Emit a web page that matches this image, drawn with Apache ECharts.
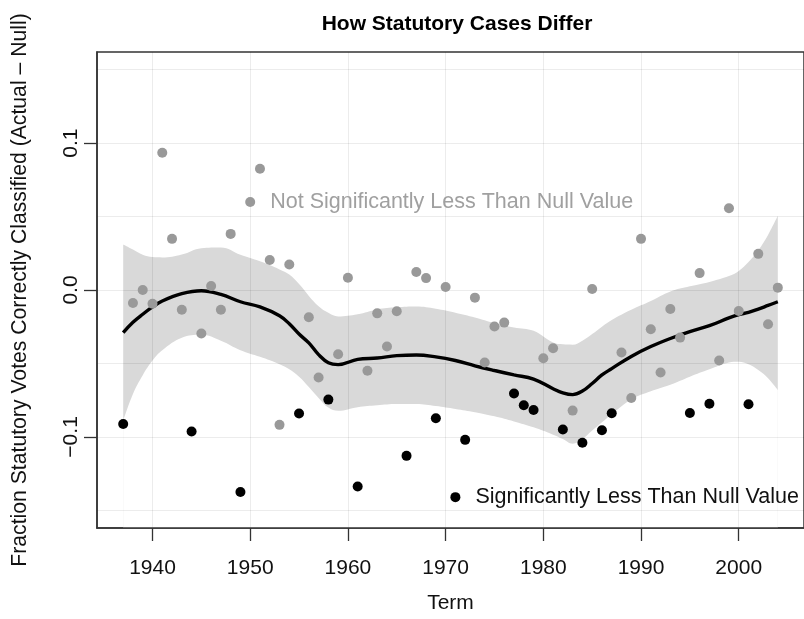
<!DOCTYPE html>
<html><head><meta charset="utf-8">
<script src="https://cdn.jsdelivr.net/npm/echarts@6/dist/echarts.min.js"></script>
<style>html,body{margin:0;padding:0;background:#fff}#c{width:804px;height:619px}</style>
</head><body><div id="c"></div>
<script>
// ---- data ----
const grayYears = [1938,1939,1940,1941,1942,1943,1945,1946,1947,1948,1950,1951,1952,1953,1954,1956,1957,1959,1960,1962,1963,1964,1965,1967,1968,1970,1973,1974,1975,1976,1980,1981,1983,1985,1988,1989,1990,1991,1992,1993,1994,1996,1998,1999,2000,2002,2003,2004];
const grayValues = [-0.0088,0.0,-0.0093,0.0934,0.0348,-0.0134,-0.0296,0.0027,-0.0134,0.0382,0.0599,0.0825,0.0204,-0.0918,0.0174,-0.0186,-0.0595,-0.0437,0.0083,-0.055,-0.0159,-0.0385,-0.0145,0.0122,0.0081,0.002,-0.0052,-0.0493,-0.0249,-0.0222,-0.0464,-0.0396,-0.0821,0.0007,-0.0425,-0.0735,0.0348,-0.0267,-0.0561,-0.0129,-0.0324,0.0115,-0.048,0.0556,-0.0143,0.0246,-0.0233,0.0016];
const blackYears = [1937,1944,1949,1955,1958,1961,1966,1969,1971,1972,1977,1978,1979,1982,1984,1986,1987,1995,1997,2001];
const blackValues = [-0.0912,-0.0963,-0.1375,-0.0841,-0.0746,-0.1337,-0.1129,-0.0873,-0.141,-0.102,-0.0704,-0.0785,-0.0817,-0.095,-0.104,-0.0955,-0.0839,-0.0837,-0.0774,-0.0778];
const fitYears = [1937,1938,1939,1940,1941,1943,1945,1947,1949,1951,1953,1954,1955,1956,1957,1958,1959,1961,1963,1965,1967,1969,1971,1973,1975,1977,1979,1981,1982,1983,1984,1985,1986,1987,1989,1991,1993,1995,1997,1999,2000,2001,2002,2003,2004];
const fitMean = [-0.029,-0.022,-0.0165,-0.0115,-0.0075,-0.0025,-0.0005,-0.003,-0.008,-0.0115,-0.0175,-0.023,-0.030,-0.036,-0.044,-0.0495,-0.0508,-0.0472,-0.0463,-0.0447,-0.0442,-0.0455,-0.048,-0.0516,-0.0548,-0.0578,-0.0606,-0.0672,-0.0700,-0.0712,-0.0688,-0.0636,-0.0578,-0.0535,-0.0452,-0.0385,-0.033,-0.0283,-0.0243,-0.019,-0.0168,-0.0152,-0.013,-0.0105,-0.008];
const fitUpper = [0.031,0.0275,0.024,0.0224,0.0222,0.0242,0.0285,0.029,0.024,0.0195,0.014,0.0105,0.004,-0.004,-0.011,-0.0155,-0.018,-0.0165,-0.0132,-0.0118,-0.0113,-0.0128,-0.0155,-0.0188,-0.0226,-0.0255,-0.0278,-0.0358,-0.037,-0.0372,-0.0345,-0.030,-0.025,-0.0205,-0.0135,-0.0075,-0.001,0.0025,0.0055,0.0095,0.013,0.019,0.027,0.0375,0.0505];
const fitLower = [-0.089,-0.0708,-0.058,-0.048,-0.041,-0.0325,-0.0305,-0.0345,-0.041,-0.0455,-0.0505,-0.054,-0.059,-0.066,-0.0735,-0.080,-0.0822,-0.0798,-0.0785,-0.0776,-0.0776,-0.079,-0.081,-0.0832,-0.086,-0.0895,-0.0935,-0.0985,-0.1015,-0.1047,-0.1015,-0.0957,-0.090,-0.0845,-0.0745,-0.069,-0.0645,-0.059,-0.054,-0.0493,-0.0488,-0.0505,-0.0545,-0.060,-0.068];
const xTickValues = [1940,1950,1960,1970,1980,1990,2000];
const yTickValues = [-0.1,0,0.1];
const yTickLabels = ['\u22120.1','0.0','0.1'];
const xGridValues = [1940,1950,1960,1970,1980,1990,2000];
const yGridValues = [-0.15,-0.1,-0.05,0,0.05,0.1,0.15];
const grayNote = {year:1950, text:'Not Significantly Less Than Null Value'};
const blackNote = {year:1971, text:'Significantly Less Than Null Value'};
const titleText = 'How Statutory Cases Differ';
const xName = 'Term';
const yName = 'Fraction Statutory Votes Correctly Classified (Actual \u2013 Null)';

// ---- chart ----
const FONT = '"Liberation Sans", Arial, Helvetica, sans-serif';
const chart = echarts.init(document.getElementById('c'), null, {renderer:'canvas'});

function pts(xs, ys, note, color) {
  return xs.map((x, i) => {
    const item = {value:[x, ys[i]]};
    if (x === note.year) {
      item.label = {show:true, position:'right', distance:15, formatter:note.text,
        color:color, fontSize:21.5, fontFamily:FONT};
    }
    return item;
  });
}

const option = {
  animation:false,
  backgroundColor:'#fff',
  title:{text:titleText, left:452, top:9, textAlign:'center',
    textStyle:{fontFamily:FONT, fontWeight:'bold', fontSize:21, color:'#000'}},
  grid:{left:97, top:52, width:718, height:480, show:true, borderColor:'#333', borderWidth:1.5, backgroundColor:'transparent'},
  xAxis:{type:'value', min:1934.32, max:2006.68, z:10,
    name:xName, nameLocation:'middle', nameGap:65,
    nameTextStyle:{fontFamily:FONT, fontSize:21, color:'#111'},
    axisLine:{show:true, onZero:false, lineStyle:{color:'#333', width:1.5}},
    axisTick:{show:true, length:13, customValues:xTickValues, lineStyle:{color:'#333', width:1.3}},
    axisLabel:{customValues:xTickValues, margin:30, fontFamily:FONT, fontSize:21, color:'#111',
      formatter:(v) => String(Math.round(v))},
    splitLine:{show:false}},
  yAxis:{type:'value', min:-0.162, max:0.162, z:10,
    name:yName, nameLocation:'middle', nameGap:66,
    nameTextStyle:{fontFamily:FONT, fontSize:21.2, color:'#111'},
    axisLine:{show:true, onZero:false, lineStyle:{color:'#333', width:1.5}},
    axisTick:{show:true, length:13, customValues:yTickValues, lineStyle:{color:'#333', width:1.3}},
    axisLabel:{customValues:yTickValues, rotate:90, margin:15, fontFamily:FONT, fontSize:21, color:'#111',
      formatter:(v) => { const i = yTickValues.findIndex(t => Math.abs(t - v) < 1e-9); return i >= 0 ? yTickLabels[i] : ''; }},
    splitLine:{show:false}},
  series:[
    // confidence band: upper edge filled grey down to the bottom, lower edge filled white down to the bottom
    {type:'line', name:'upper', data:fitYears.map((x,i)=>[x, fitUpper[i]]),
      smooth:0.4, symbol:'none', lineStyle:{width:0, opacity:0}, z:1,
      areaStyle:{color:'#d9d9d9', opacity:1, origin:'start'}},
    {type:'line', name:'lower', data:fitYears.map((x,i)=>[x, fitLower[i]]),
      smooth:0.4, symbol:'none', lineStyle:{width:0, opacity:0}, z:2,
      areaStyle:{color:'#ffffff', opacity:1, origin:'start'}},
    // light grid lines drawn over the band
    {type:'line', name:'grid', data:[], z:3,
      markLine:{silent:true, symbol:['none','none'], label:{show:false},
        lineStyle:{color:'rgba(0,0,0,0.075)', width:1, type:'solid'},
        data:yGridValues.map(v=>({yAxis:v})).concat(xGridValues.map(v=>({xAxis:v})))}},
    {type:'line', name:'fit', data:fitYears.map((x,i)=>[x, fitMean[i]]),
      smooth:0.4, symbol:'none', lineStyle:{color:'#000', width:3.4}, z:4},
    {type:'scatter', name:'not sig', data:pts(grayYears, grayValues, grayNote, '#a0a0a0'),
      symbolSize:10, itemStyle:{color:'#999999', opacity:1}, z:5},
    {type:'scatter', name:'sig', data:pts(blackYears, blackValues, blackNote, '#111'),
      symbolSize:10, itemStyle:{color:'#000', opacity:1}, z:6}
  ]
};
chart.setOption(option);
</script></body></html>
